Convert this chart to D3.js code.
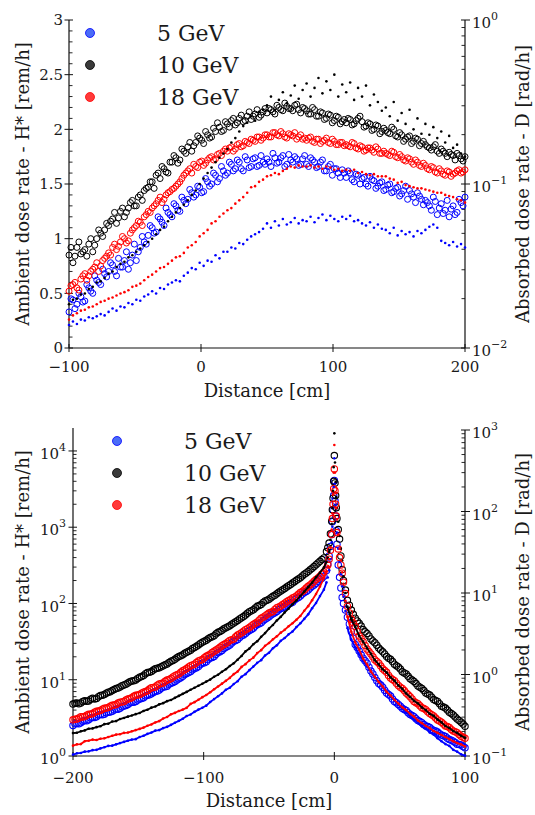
<!DOCTYPE html>
<html><head><meta charset="utf-8">
<script src="https://cdn.jsdelivr.net/npm/d3@7"></script>
<style>
body{margin:0;background:#fff}
svg{display:block}
text{font-family:"DejaVu Serif",serif;fill:#1a1a1a}
</style></head>
<body><svg id="c" width="535" height="815"></svg>
<script>
// ---------- DATA ----------
const energies = ["5 GeV", "10 GeV", "18 GeV"];
const seriesColors = ["#0000ff", "#000000", "#ff0000"];
const legendFill = ["#4a6cf7", "#3a3a3a", "#ff3a3a"];

// Top panel: distance grids (cm) — two interleaved measurement runs
const topX = d3.range(-100, 201, 3);
const topX2 = d3.range(-98.5, 200, 3);
// Ambient dose rate H* [rem/h] (open circles)
const topH5 = [0.33,0.44,0.40,0.47,0.43,0.55,0.50,0.62,0.58,0.68,
0.70,0.76,0.66,0.74,0.80,0.72,0.85,0.80,0.92,0.97,
1.03,1.10,1.06,1.18,1.12,1.24,1.20,1.30,1.25,1.35,
1.36,1.42,1.40,1.47,1.43,1.52,1.50,1.58,1.55,1.62,
1.60,1.68,1.64,1.70,1.62,1.72,1.66,1.74,1.67,1.70,
1.73,1.66,1.74,1.70,1.76,1.68,1.72,1.75,1.67,1.73,
1.68,1.74,1.70,1.66,1.72,1.62,1.68,1.64,1.60,1.63,
1.56,1.60,1.52,1.58,1.55,1.50,1.57,1.53,1.48,1.52,
1.45,1.50,1.43,1.47,1.41,1.48,1.44,1.38,1.42,1.36,
1.35,1.30,1.38,1.22,1.32,1.26,1.20,1.30,1.24,1.33,1.38];
const topH5b = [0.45,0.36,0.50,0.42,0.58,0.52,0.66,0.60,0.72,0.65,
0.78,0.70,0.82,0.74,0.88,0.78,0.95,0.88,1.02,0.95,
1.12,1.05,1.20,1.15,1.28,1.22,1.32,1.26,1.38,1.32,
1.45,1.38,1.48,1.42,1.55,1.48,1.60,1.52,1.66,1.58,
1.70,1.62,1.72,1.64,1.75,1.65,1.73,1.66,1.76,1.68,
1.70,1.78,1.69,1.74,1.66,1.77,1.70,1.73,1.68,1.76,
1.66,1.72,1.65,1.70,1.62,1.66,1.58,1.64,1.56,1.60,
1.62,1.54,1.59,1.50,1.56,1.48,1.54,1.46,1.51,1.44,
1.49,1.42,1.46,1.39,1.44,1.36,1.41,1.33,1.39,1.31,
1.33,1.26,1.34,1.28,1.23,1.35,1.27,1.22,1.36,1.30];
const topH10 = [0.85,0.78,0.92,0.86,0.90,0.95,0.88,1.00,1.05,1.08,
1.12,1.18,1.14,1.25,1.20,1.28,1.35,1.30,1.40,1.44,
1.47,1.52,1.58,1.55,1.64,1.60,1.70,1.74,1.72,1.80,
1.84,1.80,1.88,1.92,1.87,1.95,1.93,1.98,2.02,1.99,
2.05,2.08,2.04,2.10,2.07,2.12,2.09,2.14,2.11,2.16,
2.15,2.18,2.14,2.20,2.17,2.21,2.19,2.22,2.18,2.20,
2.17,2.14,2.18,2.12,2.15,2.10,2.13,2.08,2.11,2.07,
2.06,2.09,2.05,2.10,2.07,2.03,2.05,2.00,2.03,1.98,
1.99,1.96,2.00,1.93,1.95,1.91,1.94,1.89,1.91,1.87,
1.86,1.83,1.84,1.80,1.82,1.78,1.79,1.76,1.78,1.73,1.75];
const topH10b = [0.92,0.84,0.97,0.88,0.84,1.00,0.94,1.08,1.02,1.14,
1.16,1.24,1.19,1.28,1.24,1.33,1.30,1.38,1.35,1.46,
1.52,1.46,1.60,1.66,1.61,1.70,1.76,1.69,1.82,1.78,
1.88,1.85,1.94,1.90,1.98,1.92,2.01,2.06,1.98,2.07,
2.02,2.10,2.06,2.13,2.08,2.16,2.12,2.18,2.13,2.19,
2.19,2.16,2.22,2.18,2.24,2.19,2.17,2.23,2.15,2.19,
2.14,2.20,2.12,2.16,2.09,2.14,2.06,2.12,2.05,2.09,
2.10,2.04,2.08,2.12,2.02,2.06,1.99,2.04,1.96,2.01,
1.97,2.02,1.94,1.97,1.89,1.93,1.87,1.92,1.85,1.89,
1.84,1.81,1.86,1.78,1.80,1.75,1.77,1.72,1.76,1.71];
const topH18 = [0.52,0.58,0.55,0.63,0.68,0.66,0.72,0.78,0.75,0.82,
0.87,0.92,0.90,0.97,1.00,0.98,1.08,1.12,1.15,1.20,
1.25,1.28,1.32,1.38,1.36,1.42,1.45,1.48,1.52,1.58,
1.62,1.60,1.66,1.70,1.67,1.72,1.75,1.73,1.78,1.80,
1.80,1.84,1.82,1.87,1.85,1.88,1.91,1.89,1.93,1.92,
1.95,1.93,1.97,1.94,1.96,1.92,1.95,1.97,1.93,1.91,
1.90,1.93,1.88,1.91,1.89,1.92,1.87,1.89,1.86,1.88,
1.86,1.84,1.87,1.82,1.84,1.81,1.83,1.79,1.82,1.78,
1.78,1.76,1.79,1.74,1.75,1.71,1.73,1.68,1.70,1.66,
1.67,1.63,1.65,1.60,1.62,1.58,1.61,1.59,1.62,1.60,1.63];
const topH18b = [0.57,0.60,0.53,0.66,0.62,0.70,0.74,0.70,0.80,0.84,
0.85,0.95,0.93,1.02,0.96,1.05,1.10,1.16,1.12,1.22,
1.24,1.30,1.35,1.33,1.40,1.43,1.46,1.50,1.55,1.60,
1.64,1.68,1.65,1.71,1.69,1.74,1.72,1.77,1.76,1.82,
1.83,1.80,1.86,1.84,1.89,1.87,1.90,1.93,1.90,1.95,
1.93,1.97,1.95,1.98,1.93,1.96,1.94,1.91,1.95,1.92,
1.92,1.89,1.91,1.87,1.90,1.88,1.91,1.86,1.88,1.85,
1.85,1.88,1.83,1.85,1.80,1.83,1.81,1.84,1.78,1.80,
1.77,1.80,1.75,1.77,1.72,1.74,1.70,1.72,1.67,1.69,
1.64,1.66,1.61,1.64,1.59,1.62,1.57,1.60,1.63,1.61];
// Absorbed dose rate D [rad/h] (small dots)
const topD5 = [0.0138,0.0145,0.0140,0.0149,0.0147,0.0154,0.0152,0.0156,0.0161,0.0158,
0.0166,0.0174,0.0169,0.0179,0.0177,0.0188,0.0185,0.0197,0.0194,0.0206,
0.0212,0.0222,0.0215,0.0232,0.0229,0.0244,0.0251,0.0259,0.0255,0.0276,
0.0288,0.0307,0.0302,0.0331,0.0317,0.0341,0.0336,0.0368,0.0352,0.0386,
0.0386,0.0410,0.0404,0.0437,0.0430,0.0457,0.0479,0.0494,0.0509,0.0533,
0.0575,0.0541,0.0593,0.0558,0.0612,0.0566,0.0584,0.0621,0.0575,0.0602,
0.0593,0.0631,0.0584,0.0621,0.0651,0.0602,0.0641,0.0612,0.0593,0.0631,
0.0612,0.0641,0.0593,0.0602,0.0575,0.0558,0.0584,0.0541,0.0566,0.0533,
0.0525,0.0501,0.0541,0.0486,0.0517,0.0494,0.0509,0.0479,0.0517,0.0501,
0.0525,0.0549,0.0566,0.0541,0.0450,0.0437,0.0423,0.0443,0.0416,0.0430,0.0410];
const topD10 = [0.0185,0.0197,0.0200,0.0212,0.0215,0.0229,0.0236,0.0251,0.0255,0.0267,
0.0284,0.0293,0.0312,0.0326,0.0336,0.0357,0.0368,0.0386,0.0404,0.0423,
0.0443,0.0464,0.0494,0.0525,0.0549,0.0593,0.0631,0.0671,0.0713,0.0747,
0.0795,0.0858,0.0912,0.1000,0.1079,0.1166,0.1259,0.1359,0.1445,0.1536,
0.1634,0.1791,0.1905,0.2088,0.2255,0.2361,0.2588,0.2434,0.2752,0.2838,
0.3017,0.3411,0.2838,0.3258,0.3626,0.3111,0.3464,0.3981,0.3308,0.3739,
0.4099,0.3411,0.3855,0.4425,0.3571,0.4226,0.3739,0.4642,0.3411,0.4040,
0.3626,0.4162,0.3258,0.3855,0.3411,0.3981,0.3017,0.3517,0.3159,0.2795,
0.2929,0.2588,0.3159,0.2434,0.2710,0.2326,0.2838,0.2154,0.2512,0.2025,
0.2326,0.1995,0.2221,0.1905,0.2088,0.1791,0.1964,0.1660,0.1737,0.1536,0.1468];
const topD18 = [0.0149,0.0158,0.0163,0.0169,0.0171,0.0177,0.0179,0.0185,0.0191,0.0194,
0.0200,0.0203,0.0209,0.0215,0.0219,0.0225,0.0236,0.0240,0.0247,0.0259,
0.0271,0.0280,0.0293,0.0307,0.0312,0.0326,0.0341,0.0357,0.0363,0.0380,
0.0410,0.0423,0.0443,0.0479,0.0501,0.0525,0.0575,0.0593,0.0631,0.0661,
0.0692,0.0713,0.0759,0.0795,0.0832,0.0885,0.0955,0.0970,0.1031,0.1063,
0.1113,0.1131,0.1166,0.1148,0.1202,0.1240,0.1278,0.1259,0.1298,0.1278,
0.1278,0.1298,0.1259,0.1278,0.1240,0.1278,0.1259,0.1221,0.1240,0.1202,
0.1221,0.1202,0.1221,0.1166,0.1184,0.1148,0.1131,0.1148,0.1113,0.1113,
0.1113,0.1079,0.1063,0.1016,0.1031,0.0985,0.0970,0.0955,0.0941,0.0941,
0.0926,0.0912,0.0898,0.0885,0.0885,0.0858,0.0845,0.0832,0.0807,0.0795,0.0770];

// Bottom panel: distance grids (cm)
const botX = [].concat(d3.range(-200, -7, 3),
  [-6,-5,-4,-3,-2,-1.5,-1,-0.5,0,0.5,1,1.5,2,3,4,5,6,7,8.5],
  d3.range(10, 101, 3));
const botX2 = [].concat(d3.range(-198.5, -7, 3), d3.range(11.5, 100, 3));
const botH5 = [2.52,2.66,2.72,2.92,2.99,3.20,3.27,3.51,3.52,3.76,
3.85,4.12,4.22,4.53,4.74,5.07,5.19,5.57,5.82,6.25,
6.54,7.01,7.33,8.03,8.24,9.02,9.45,10.3,11.1,12.1,
12.8,14.0,14.9,16.4,17.2,19.3,20.2,22.7,24.2,26.6,
28.5,31.9,33.6,37.6,40.3,44.2,47.4,53.0,55.7,62.3,
67.0,73.1,78.7,85.9,90.4,98.5,104,116,125,139,
150,168,184,206,227,
270,330,420,560,800,1180,1700,2600,4100,2200,1400,900,600,320,220,160,120,100,82,
66,43,29,23.8,19.2,16.5,13.0,10.7,8.9,8.0,6.7,6.1,5.2,4.75,4.22,3.95,3.5,3.28,2.92,2.73,2.47,2.36,2.16,2.06,1.88,1.8,1.64,1.56,1.43,1.39,1.28];
const botH5b = [2.65,2.64,2.86,2.90,3.14,3.19,3.44,3.47,3.68,3.77,
4.02,4.11,4.42,4.58,4.96,5.07,5.42,5.66,6.10,6.34,
6.82,7.12,7.74,8.07,8.70,9.17,9.95,10.6,11.7,12.4,
13.5,14.4,15.8,16.7,18.4,19.6,21.6,23.3,25.6,27.4,
30.4,32.6,35.8,38.7,42.6,45.5,50.6,54.1,59.4,64.3,
70.7,75.5,82.9,87.6,95.2,101,111,120,133,144,
160,175,196,215,
54,35,26.5,21.2,17.8,14.6,11.9,9.7,8.5,7.3,6.4,5.6,5.0,4.5,4.08,3.70,3.40,3.08,2.84,2.58,2.43,2.25,2.12,1.96,1.85,1.71,1.61,1.50,1.42,1.33];
const botH10 = [4.79,4.95,4.96,5.30,5.28,5.70,5.68,6.20,6.40,6.85,
7.20,7.65,8.05,8.55,9.05,9.60,9.95,10.8,11.4,12.4,
12.8,13.9,14.4,15.2,16.1,17.5,18.5,20.1,21.3,23.0,
24.4,26.5,28.6,31.1,32.9,35.7,37.8,41.9,44.4,48.2,
51.0,55.4,60.0,65.0,70.4,78.0,82.7,91.8,97.1,108,
114,124,134,146,157,171,185,201,218,242,
262,290,322,357,396,
480,540,620,820,1200,1700,2400,4000,8700,3800,2600,1800,1300,930,700,420,280,200,150,
110,82,64,55,45.5,40.5,34.3,30.6,26.0,23.2,20.1,18.5,16.0,14.7,12.7,11.9,10.3,9.5,8.3,7.7,6.7,6.3,5.5,5.2,4.5,4.25,3.75,3.45,3.05,2.78,2.45];
const botH10b = [4.92,4.84,5.18,5.21,5.55,5.61,5.98,6.28,6.66,6.98,
7.45,7.80,8.35,8.74,9.38,9.71,10.4,11.0,12.0,12.5,
13.4,14.1,14.8,15.7,16.8,17.9,19.4,20.6,22.2,23.6,
25.6,27.4,29.9,31.9,34.4,36.6,40.0,43.0,46.5,49.4,
53.4,57.5,62.7,67.4,74.5,80.0,87.5,94.0,103,110,
119,128,140,151,164,177,193,209,230,251,
276,305,340,376,
95,72,59,50.5,42.5,37.5,32.2,28.4,24.5,21.8,19.2,17.3,15.2,13.8,12.3,11.1,9.9,8.9,8.0,7.2,6.5,5.9,5.35,4.86,4.38,4.0,3.6,3.25,2.92,2.62];
const botH18 = [2.98,3.05,3.28,3.29,3.52,3.60,3.85,3.95,4.22,4.33,
4.62,4.75,5.08,5.20,5.57,5.82,6.25,6.40,6.85,7.18,
7.85,8.05,8.82,9.05,9.90,10.4,11.3,11.9,13.1,14.0,
15.3,16.0,17.6,18.4,20.3,21.6,23.7,25.4,27.9,29.8,
32.8,34.3,38.5,41.2,45.3,48.4,53.1,56.9,63.8,68.5,
74.9,78.6,88.0,92.4,101,109,118,125,139,150,
168,184,206,227,259,
290,320,380,500,800,1300,2000,3200,5800,3000,2000,1400,850,520,400,320,250,190,135,
92,62,50,37.5,31.5,25.3,21.8,18.3,16.5,13.9,12.5,10.5,9.7,8.4,7.7,6.7,6.0,5.2,4.85,4.3,4.05,3.6,3.35,2.97,2.78,2.48,2.36,2.12,2.02,1.81,1.71];
const botH18b = [3.04,3.14,3.25,3.42,3.53,3.75,3.88,4.10,4.25,4.50,
4.66,4.94,5.12,5.41,5.67,6.06,6.30,6.66,6.99,7.55,
7.92,8.47,8.90,9.52,10.1,10.9,11.6,12.5,13.5,14.7,
15.6,16.8,18.0,19.4,20.9,22.7,24.5,26.6,28.9,31.3,
33.5,36.5,39.8,43.3,46.8,50.8,54.9,60.4,66.0,71.8,
76.6,83.5,90.1,96.6,105,113,121,132,144,159,
175,195,216,243,
75,56,43,34.5,28.2,23.4,20.0,17.4,15.1,13.2,11.4,10.1,9.0,8.0,7.2,6.35,5.6,5.0,4.55,4.2,3.8,3.48,3.14,2.88,2.62,2.43,2.23,2.08,1.91,1.76];
const botD5 = [0.104,0.108,0.109,0.113,0.114,0.118,0.119,0.124,0.128,0.133,
0.134,0.139,0.144,0.149,0.154,0.159,0.161,0.171,0.177,0.187,
0.194,0.205,0.208,0.220,0.228,0.241,0.256,0.270,0.287,0.310,
0.323,0.348,0.371,0.391,0.415,0.459,0.499,0.540,0.586,0.649,
0.689,0.763,0.828,0.938,1.01,1.13,1.25,1.39,1.50,1.71,
1.85,2.10,2.28,2.59,2.80,3.11,3.37,3.82,4.25,4.81,
5.47,6.49,7.55,9.16,11.0,
13.5,15.5,19,26,42,65,110,200,450,220,120,80,55,35,24,17,12,9,6,
3.72,2.68,2.16,1.76,1.49,1.25,1.08,0.925,0.815,0.705,0.604,0.533,0.482,0.424,0.383,0.344,0.311,0.280,0.259,0.232,0.215,0.194,0.183,0.165,0.152,0.140,0.133,0.119,0.113,0.105,0.101];
const botD10 = [0.191,0.193,0.201,0.206,0.216,0.218,0.226,0.232,0.246,0.249,
0.265,0.268,0.284,0.293,0.304,0.314,0.326,0.337,0.357,0.370,
0.392,0.405,0.430,0.445,0.471,0.487,0.517,0.546,0.579,0.612,
0.650,0.688,0.729,0.771,0.818,0.866,0.938,0.995,1.08,1.16,
1.27,1.37,1.52,1.69,1.92,2.08,2.35,2.56,2.90,3.22,
3.65,4.05,4.60,5.10,5.78,6.42,7.28,8.10,9.16,10.4,
11.8,13.4,15.6,17.7,20.5,
24,27,32,45,70,110,180,350,910,400,230,150,110,75,50,35,25,16,10,
6.8,4.75,3.84,2.99,2.53,2.12,1.80,1.50,1.33,1.16,1.06,0.925,0.840,0.735,0.667,0.584,0.530,0.475,0.441,0.395,0.366,0.329,0.311,0.280,0.259,0.233,0.221,0.203,0.192,0.177,0.167];
const botD18 = [0.134,0.139,0.140,0.152,0.154,0.159,0.157,0.163,0.165,0.171,
0.177,0.183,0.185,0.192,0.194,0.201,0.208,0.215,0.223,0.235,
0.244,0.258,0.268,0.289,0.301,0.325,0.338,0.356,0.371,0.390,
0.436,0.458,0.489,0.527,0.560,0.606,0.658,0.711,0.772,0.836,
0.908,1.01,1.09,1.24,1.34,1.49,1.61,1.83,1.99,2.25,
2.44,2.70,2.94,3.26,3.53,3.91,4.25,4.70,5.22,6.06,
6.90,8.16,9.74,12.0,15.2,
18.5,21,26,36,60,95,160,300,655,300,170,110,80,52,35,25,18,13,8,
5.1,3.35,2.48,2.02,1.57,1.33,1.09,0.94,0.808,0.712,0.613,0.553,0.487,0.440,0.396,0.365,0.329,0.304,0.273,0.253,0.233,0.220,0.203,0.192,0.181,0.171,0.161,0.152,0.144,0.139,0.131];

// Tick values
const topXTicks = [-100, 0, 100, 200];
const topYTicks = [0, 0.5, 1, 1.5, 2, 2.5, 3];
const topYLabels = ["0", "0.5", "1", "1.5", "2", "2.5", "3"];
const topRTicks = [0.01, 0.1, 1];
const topRExp = ["\u22122", "\u22121", "0"];
const botXTicks = [-200, -100, 0, 100];
const botLTicks = [1, 10, 100, 1000, 10000];
const botLExp = ["0", "1", "2", "3", "4"];
const botRTicks = [0.1, 1, 10, 100, 1000];
const botRExp = ["\u22121", "0", "1", "2", "3"];
const xTitle = "Distance [cm]";
const leftTitle = "Ambient dose rate - H* [rem/h]";
const rightTitle = "Absorbed dose rate - D [rad/h]";

// ---------- DRAW ----------
const svg = d3.select("#c");
const axisCol = "#111";
const fmtX = v => (v < 0 ? "\u2212" + Math.abs(v) : String(v));

function logMinors(dom) {
  const out = [];
  const lo = Math.floor(Math.log10(dom[0])), hi = Math.ceil(Math.log10(dom[1]));
  for (let e = lo; e <= hi; e++) for (let m = 2; m <= 9; m++) {
    const v = m * Math.pow(10, e);
    if (v > dom[0] && v < dom[1]) out.push(v);
  }
  return out;
}

function panel(cfg) {
  const g = svg.append("g");
  const { x, yl, yr } = cfg;
  const [x0, x1] = x.range();
  const [yb, yt] = yl.range();
  const ytr = yr.range()[1];
  g.append("line").attr("x1", x0).attr("x2", x0).attr("y1", yb).attr("y2", yt).attr("stroke", axisCol).attr("stroke-width", 1.2);
  g.append("line").attr("x1", x1).attr("x2", x1).attr("y1", yb).attr("y2", ytr).attr("stroke", axisCol).attr("stroke-width", 1.2);
  g.append("line").attr("x1", x0).attr("x2", x1).attr("y1", yb).attr("y2", yb).attr("stroke", axisCol).attr("stroke-width", 1.2);
  cfg.xTicks.forEach(v => {
    g.append("line").attr("x1", x(v)).attr("x2", x(v)).attr("y1", yb - 4).attr("y2", yb + 4).attr("stroke", axisCol);
    g.append("text").attr("x", x(v)).attr("y", cfg.xLabY).attr("text-anchor", "middle").attr("font-size", 15).text(fmtX(v));
  });
  cfg.lMinor.forEach(v => {
    g.append("line").attr("x1", x0).attr("x2", x0 + 3.5).attr("y1", yl(v)).attr("y2", yl(v)).attr("stroke", axisCol).attr("stroke-width", 0.9);
  });
  cfg.lTicks.forEach((v, i) => {
    g.append("line").attr("x1", x0 - 4.5).attr("x2", x0 + 4).attr("y1", yl(v)).attr("y2", yl(v)).attr("stroke", axisCol);
    const t = g.append("text").attr("x", cfg.lLabX).attr("y", yl(v)).attr("dy", "0.36em").attr("text-anchor", "end").attr("font-size", 15);
    if (cfg.lExp) { t.text("10"); t.append("tspan").attr("dy", "-0.75em").attr("font-size", 11).text(cfg.lExp[i]); t.attr("dy", "0.55em"); }
    else t.text(cfg.lLabels[i]);
  });
  logMinors(yr.domain()).forEach(v => {
    g.append("line").attr("x1", x1 - 3.5).attr("x2", x1).attr("y1", yr(v)).attr("y2", yr(v)).attr("stroke", axisCol).attr("stroke-width", 0.9);
  });
  cfg.rTicks.forEach((v, i) => {
    g.append("line").attr("x1", x1 - 4).attr("x2", x1 + 5).attr("y1", yr(v)).attr("y2", yr(v)).attr("stroke", axisCol);
    const t = g.append("text").attr("x", x1 + 7).attr("y", yr(v)).attr("dy", "0.55em").attr("font-size", 15).text("10");
    t.append("tspan").attr("dy", "-0.75em").attr("font-size", 11).text(cfg.rExp[i]);
  });
  g.append("text").attr("x", (x0 + x1) / 2).attr("y", cfg.xTitleY).attr("text-anchor", "middle").attr("font-size", 18).text(xTitle);
  g.append("text").attr("transform", `translate(29,${cfg.titleCY}) rotate(-90)`).attr("text-anchor", "middle").attr("font-size", 18).text(leftTitle);
  g.append("text").attr("transform", `translate(529,${cfg.titleCY}) rotate(-90)`).attr("text-anchor", "middle").attr("font-size", 18).text(rightTitle);
  energies.forEach((e, i) => {
    const ly = cfg.legY[i];
    g.append("circle").attr("cx", cfg.legX).attr("cy", ly).attr("r", 4.5).attr("fill", legendFill[i]).attr("stroke", seriesColors[i]).attr("stroke-width", 0.8);
    g.append("text").attr("x", cfg.legTX).attr("y", ly).attr("dy", "0.36em").attr("font-size", 22).text(e);
  });
  return g;
}

// ---- Top panel ----
const xT = d3.scaleLinear().domain([-100, 200]).range([69, 465]);
const yTL = d3.scaleLinear().domain([0, 3]).range([348, 20]);
const yTR = d3.scaleLog().domain([0.01, 1]).range([348, 20]);
const gT = panel({
  x: xT, yl: yTL, yr: yTR, xTicks: topXTicks, xLabY: 372,
  lTicks: topYTicks, lLabels: topYLabels, lLabX: 63,
  lMinor: d3.range(0, 31).map(k => k / 10).filter(v => Math.round(v * 10) % 5 !== 0),
  rTicks: topRTicks, rExp: topRExp, xTitleY: 397, titleCY: 184,
  legX: 90, legTX: 157, legY: [33, 65, 97]
});
const topH = [[topH5, topH5b], [topH10, topH10b], [topH18, topH18b]];
const topD = [topD5, topD10, topD18];
topH.forEach((pair, s) => {
  [[pair[0], topX], [pair[1], topX2]].forEach(([arr, xs]) => {
    gT.append("g").selectAll("circle").data(arr).join("circle")
      .attr("cx", (d, i) => xT(xs[i])).attr("cy", d => yTL(d)).attr("r", 3)
      .attr("fill", "none").attr("stroke", seriesColors[s]).attr("stroke-width", 1);
  });
});
topD.forEach((arr, s) => {
  gT.append("g").selectAll("circle").data(arr).join("circle")
    .attr("cx", (d, i) => xT(topX[i])).attr("cy", d => yTR(d)).attr("r", 1.3)
    .attr("fill", seriesColors[s]);
});

// ---- Bottom panel ----
const xB = d3.scaleLinear().domain([-200, 100]).range([73, 465]);
const yBL = d3.scaleLog().domain([1, 2e4]).range([756, 428]);
const yBR = d3.scaleLog().domain([0.1, 1000]).range([756, 430]);
const gB = panel({
  x: xB, yl: yBL, yr: yBR, xTicks: botXTicks, xLabY: 783,
  lTicks: botLTicks, lExp: botLExp, lLabX: 66,
  lMinor: logMinors(yBL.domain()),
  rTicks: botRTicks, rExp: botRExp, xTitleY: 807, titleCY: 592,
  legX: 117, legTX: 184, legY: [441, 473, 505]
});
const botH = [[botH5, botH5b], [botH10, botH10b], [botH18, botH18b]];
const botD = [botD5, botD10, botD18];
botH.forEach((pair, s) => {
  [[pair[0], botX], [pair[1], botX2]].forEach(([arr, xs]) => {
    gB.append("g").selectAll("circle").data(arr).join("circle")
      .attr("cx", (d, i) => xB(xs[i])).attr("cy", d => yBL(d)).attr("r", 3.2)
      .attr("fill", "none").attr("stroke", seriesColors[s]).attr("stroke-width", 1.1);
  });
});
botD.forEach((arr, s) => {
  const line = d3.line().defined((d, i) => botX[i] <= -6 || botX[i] >= 10)
    .x((d, i) => xB(botX[i])).y(d => yBR(d));
  gB.append("path").attr("d", line(arr)).attr("fill", "none").attr("stroke", seriesColors[s]).attr("stroke-width", 1.8);
  gB.append("g").selectAll("circle").data(arr).join("circle")
    .attr("cx", (d, i) => xB(botX[i])).attr("cy", d => yBR(d)).attr("r", 1.3)
    .attr("fill", seriesColors[s]);
});
</script>
</body></html>
